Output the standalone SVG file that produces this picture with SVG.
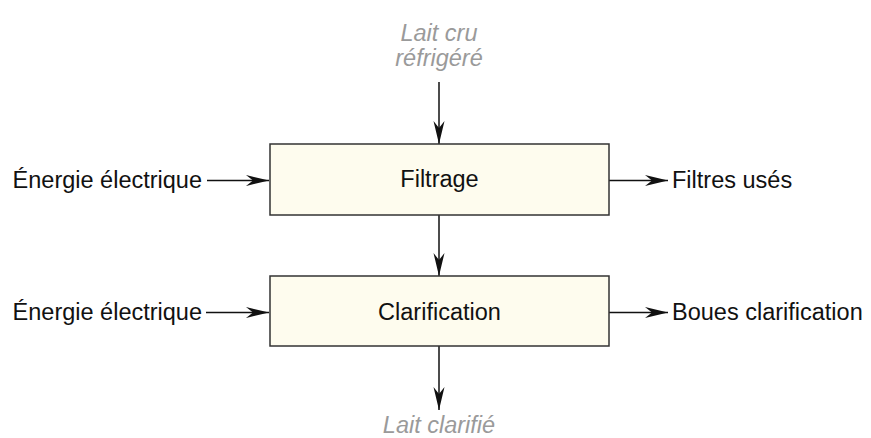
<svg xmlns="http://www.w3.org/2000/svg" width="871" height="438" viewBox="0 0 871 438">
  <style>
    .box { fill: #fefcee; stroke: #333333; stroke-width: 1.5; }
    .lbl { font-family: "Liberation Sans", Arial, sans-serif; font-size: 23.5px; fill: #111111; }
    .flow { font-family: "Liberation Sans", Arial, sans-serif; font-size: 23.5px; font-style: italic; fill: #9a9a9a; text-anchor: middle; }
    .conn { stroke: #111111; stroke-width: 1.5; fill: none; marker-end: url(#arrow); }
  </style>
  <defs>
    <marker id="arrow" markerUnits="userSpaceOnUse" markerWidth="26" markerHeight="14" viewBox="-24 -7 26 14" refX="0" refY="0" orient="auto">
      <path d="M0,0 L-23,-5.5 L-16,0 L-23,5.5 Z" fill="#111111"/>
    </marker>
  </defs>

  <rect width="871" height="438" fill="#ffffff"/>

  <!-- connectors -->
  <g id="connectors">
    <line class="conn" x1="439" y1="82" x2="439" y2="144"/>
    <line class="conn" x1="207" y1="180.5" x2="269" y2="180.5"/>
    <line class="conn" x1="609" y1="180.5" x2="668" y2="180.5"/>
    <line class="conn" x1="439" y1="215" x2="439" y2="276"/>
    <line class="conn" x1="206" y1="312.5" x2="269" y2="312.5"/>
    <line class="conn" x1="609" y1="312.5" x2="668" y2="312.5"/>
    <line class="conn" x1="439" y1="346" x2="439" y2="410"/>
  </g>

  <!-- process steps -->
  <g id="filtrage">
    <rect class="box" x="270" y="144" width="339" height="71"/>
    <text class="lbl" x="439.5" y="187" text-anchor="middle">Filtrage</text>
  </g>
  <g id="clarification">
    <rect class="box" x="270" y="276" width="339" height="70"/>
    <text class="lbl" x="439.5" y="320" text-anchor="middle">Clarification</text>
  </g>

  <!-- inputs and outputs -->
  <g id="lait-cru">
    <text class="flow" x="439" y="41">Lait cru</text>
    <text class="flow" x="439" y="66">réfrigéré</text>
  </g>
  <g id="energie-1">
    <text class="lbl" x="202" y="188" text-anchor="end">Énergie électrique</text>
  </g>
  <g id="filtres-uses">
    <text class="lbl" x="672" y="188">Filtres usés</text>
  </g>
  <g id="energie-2">
    <text class="lbl" x="202" y="320" text-anchor="end">Énergie électrique</text>
  </g>
  <g id="boues">
    <text class="lbl" x="672" y="320">Boues clarification</text>
  </g>
  <g id="lait-clarifie">
    <text class="flow" x="439" y="433">Lait clarifié</text>
  </g>
</svg>
